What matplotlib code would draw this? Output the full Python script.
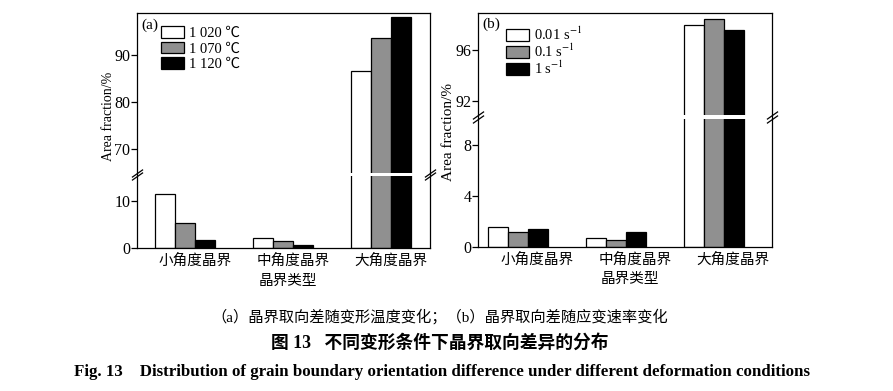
import numpy as np
import matplotlib
matplotlib.use("Agg")
import matplotlib.pyplot as plt

# Категории по оси X (общие для обеих панелей)
categories = ["小角度晶界", "中角度晶界", "大角度晶界"]

# (a) зависимость от температуры деформации
temp_labels = ["1 020 ℃", "1 070 ℃", "1 120 ℃"]
temp_1020 = [11.5, 2.1, 86.6]
temp_1070 = [5.2, 1.4, 93.5]
temp_1120 = [1.6, 0.7, 98.0]

# (b) зависимость от скорости деформации
rate_labels = ["0.01 s$^{-1}$", "0.1 s$^{-1}$", "1 s$^{-1}$"]
rate_001 = [1.56, 0.68, 97.95]
rate_01 = [1.12, 0.50, 98.40]
rate_1 = [1.36, 1.12, 97.60]

ticks_a = [0, 10, 70, 80, 90]
ticks_b = [0, 4, 8, 92, 96]

BAR_COLORS = ["white", "#909090", "black"]


def break_scale(lo, hi, gap):
    """
    Разрыв оси Y: участок (lo, hi) сжимается до gap единиц.
    """

    def fwd(y):
        y = np.asarray(y, dtype=float)
        return np.where(
            y <= lo, y,
            np.where(y >= hi, y - hi + lo + gap, lo + (y - lo) * gap / (hi - lo))
        )

    def inv(t):
        t = np.asarray(t, dtype=float)
        return np.where(
            t <= lo, t,
            np.where(t >= lo + gap, t - lo - gap + hi, lo + (t - lo) * (hi - lo) / gap)
        )

    return fwd, inv


def draw_panel(ax, series, labels, lo, hi, gap, top, yticks, xlim, tick_shift,
               tag, leg_anchor, leg_spacing, ylabel_size, ylabel_pos):
    x = np.arange(len(categories))
    width = 0.204

    fwd, inv = break_scale(lo, hi, gap)
    ax.set_yscale("function", functions=(fwd, inv))

    for i, (vals, lab) in enumerate(zip(series, labels)):
        ax.bar(x + (i - 1) * width, vals, width, color=BAR_COLORS[i],
               edgecolor="black", linewidth=0.9, label=lab, zorder=1)

    ax.set_ylim(0, top)
    ax.set_xlim(*xlim)
    ax.set_yticks(yticks)
    ax.set_xticks(x + tick_shift)
    ax.set_xticklabels(categories, fontsize=10.5)

    ax.tick_params(axis="y", direction="out", length=4, width=0.9, labelsize=11.5, pad=0.5)
    ax.tick_params(axis="x", length=0, pad=4)
    for sp in ax.spines.values():
        sp.set_linewidth(0.9)

    # Белая полоса разрыва поверх столбцов, но под рамкой
    ax.axhspan(lo, hi, color="white", zorder=2, linewidth=0)

    # Знаки "//" на левой и правой рамке
    slash = [(-1, -0.7), (1, 0.7)]
    yt = ax.get_yaxis_transform()
    for xs in (0, 1):
        ax.plot([xs, xs], [lo, hi], transform=yt, ls="none", marker=slash,
                markersize=8, markeredgewidth=0.9, color="black",
                clip_on=False, zorder=5)

    ax.set_ylabel("Area fraction/%", fontsize=ylabel_size)
    ax.yaxis.set_label_coords(*ylabel_pos)
    ax.set_xlabel("晶界类型", fontsize=10.5)
    ax.xaxis.set_label_coords(0.516, -0.112)

    ax.text(0.015, 0.95, tag, transform=ax.transAxes, fontsize=11,
            ha="left", va="center")

    ax.legend(loc="upper left", bbox_to_anchor=leg_anchor, frameon=False,
              fontsize=10.5, handlelength=1.6, handleheight=0.85,
              handletextpad=0.3, labelspacing=leg_spacing, borderpad=0,
              borderaxespad=0)


def main():
    plt.rcParams["font.family"] = ["Liberation Serif", "Noto Sans CJK SC"]
    plt.rcParams["mathtext.fontset"] = "stix"
    plt.rcParams["axes.unicode_minus"] = False

    fig = plt.figure(figsize=(8.93, 3.91), dpi=100)

    ax_a = fig.add_axes([0.1529, 0.3657, 0.3287, 0.601])
    ax_b = fig.add_axes([0.5353, 0.3690, 0.3292, 0.598])

    draw_panel(ax_a, [temp_1020, temp_1070, temp_1120], temp_labels,
               lo=15.2, hi=65.0, gap=0.75, top=98.9, yticks=ticks_a,
               xlim=(-0.495, 2.5), tick_shift=0.1, tag="(a)",
               leg_anchor=(0.083, 0.945), leg_spacing=0.12, ylabel_size=10,
               ylabel_pos=(-0.074, 0.562))

    draw_panel(ax_b, [rate_001, rate_01, rate_1], rate_labels,
               lo=10.0, hi=90.9, gap=0.3, top=98.9, yticks=ticks_b,
               xlim=(-0.408, 2.59), tick_shift=0.19, tag="(b)",
               leg_anchor=(0.095, 0.945), leg_spacing=-0.02, ylabel_size=11,
               ylabel_pos=(-0.08, 0.49))

    # Подписи под рисунком
    fig.text(0.4927, 0.189, "（a）晶界取向差随变形温度变化；（b）晶界取向差随应变速率变化",
             ha="center", va="center", fontsize=11)
    fig.text(0.4927, 0.1228, "图 13   不同变形条件下晶界取向差异的分布",
             ha="center", va="center", fontsize=12.8, fontweight="bold")
    fig.text(0.495, 0.0486,
             "Fig. 13    Distribution of grain boundary orientation difference "
             "under different deformation conditions",
             ha="center", va="center", fontsize=12.2, fontweight="bold")

    fig.savefig("out.png", dpi=100)


if __name__ == "__main__":
    main()
